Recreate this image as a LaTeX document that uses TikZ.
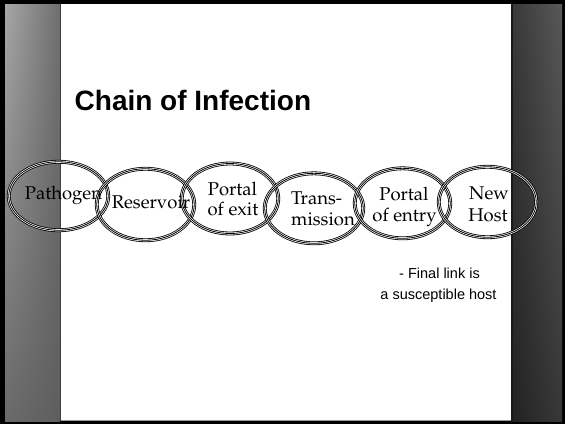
\documentclass[tikz,border=0pt]{standalone}
\usepackage[T1,TU]{fontenc}
\usepackage{fontspec}
\usetikzlibrary{shapes.geometric,shadings}
\newfontfamily\arialf{Liberation Sans}
\newfontfamily\timesf{Liberation Serif}
\newcommand\palsize{\fontsize{18.5}{21}\selectfont}
\IfFileExists{t1qpl.fd}{\newcommand\palf{\fontencoding{T1}\fontfamily{qpl}\selectfont\palsize}}{%
  \IfFileExists{t1ppl.fd}{\newcommand\palf{\fontencoding{T1}\fontfamily{ppl}\selectfont\palsize}}{%
    \newcommand\palf{\timesf\fontsize{20.5}{21}\selectfont}}}
\definecolor{lpUL}{HTML}{A6A6A6}
\definecolor{lpUR}{HTML}{6E6E6E}
\definecolor{lpLL}{HTML}{6A6A6A}
\definecolor{lpLR}{HTML}{5E5E5E}
\definecolor{rpUL}{HTML}{383838}
\definecolor{rpUR}{HTML}{585858}
\definecolor{rpLL}{HTML}{222222}
\definecolor{rpLR}{HTML}{383838}
\tikzset{
  ringnode/.style={ellipse, inner sep=0pt, draw=black, line width=0.8pt,
    preaction={draw=black, line width=3.8pt},
    preaction={draw=white, line width=2.2pt}},
  ringtext/.style={anchor=base, inner sep=0pt, font=\palf},
  notetext/.style={anchor=base, inner sep=0pt, font=\arialf\fontsize{14.5}{21}\selectfont}
}
\begin{document}
\begin{tikzpicture}[x=1pt,y=-1pt]
\useasboundingbox (0,0) rectangle (565,424);
% frame and panels
\fill[black] (0,0) rectangle (565,424);
\fill[white] (5,4) rectangle (562,421);
\draw[black!40, line width=0.6pt] (60,420.7) -- (511,420.7);
\shade[upper left=lpUL, upper right=lpUR, lower left=lpLL, lower right=lpLR] (5,4) rectangle (60,421);
\draw[black!75, line width=0.8pt] (60,4) -- (60,421);
\shade[upper left=rpUL, upper right=rpUR, lower left=rpLL, lower right=rpLR] (511,4) rectangle (562,421);
\draw[black!90, line width=1.5pt] (512,4) -- (512,421);
% title
\node[anchor=base west, inner sep=0pt, font=\arialf\bfseries\fontsize{28}{32}\selectfont] (title) at (74.5,110) {Chain of Infection};
% rings
\node[ringnode, minimum width=99.5pt, minimum height=68.5pt] (r1) at (58.5,196) {};
\node[ringnode, minimum width=97.5pt, minimum height=71.5pt] (r2) at (145.5,204.5) {};
\node[ringnode, minimum width=96.5pt, minimum height=70pt] (r3) at (230,198.5) {};
\node[ringnode, minimum width=98.5pt, minimum height=70pt] (r4) at (314,208.3) {};
\node[ringnode, minimum width=95.5pt, minimum height=70pt] (r5) at (402.5,203.3) {};
\node[ringnode, minimum width=97.5pt, minimum height=70.5pt] (r6) at (487.5,202) {};
% ring texts
\node[ringtext] (t1) at (63.5,199.3) {Pathogen};
\node[ringtext] (t2) at (151,208) {Reservoir};
\node[ringtext] (t3a) at (232.5,195) {Portal};
\node[ringtext] (t3b) at (233,215.7) {of exit};
\node[ringtext] (t4a) at (316.5,204) {Trans-};
\node[ringtext] (t4b) at (323,225) {mission};
\node[ringtext] (t5a) at (404,200) {Portal};
\node[ringtext] (t5b) at (404.5,221.7) {of entry};
\node[ringtext] (t6a) at (489,199.3) {New};
\node[ringtext] (t6b) at (488,221.7) {Host};
% note
\node[notetext] (n1) at (439.5,278) {- Final link is};
\node[notetext] (n2) at (438.5,299) {a susceptible host};
\end{tikzpicture}
\end{document}
